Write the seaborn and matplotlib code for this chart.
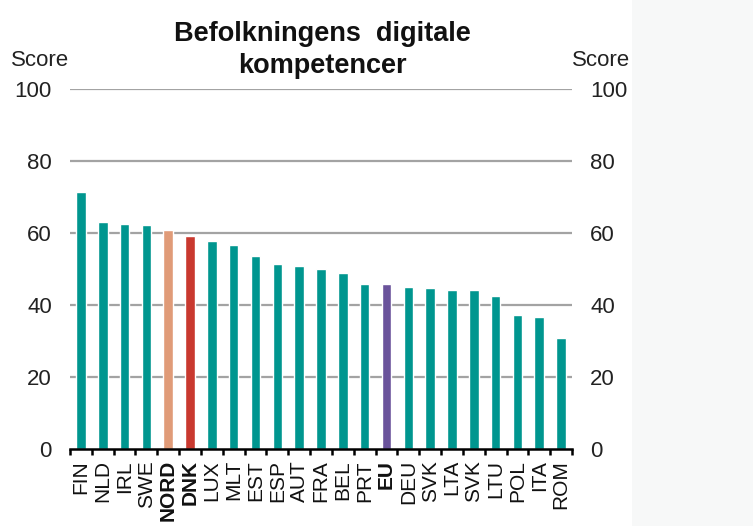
import matplotlib
matplotlib.use("Agg")
import matplotlib.pyplot as plt
import seaborn as sns
import pandas as pd
from matplotlib.patches import Rectangle
from matplotlib.ticker import FixedLocator

categories = ["FIN", "NLD", "IRL", "SWE", "NORD", "DNK", "LUX", "MLT", "EST", "ESP",
              "AUT", "FRA", "BEL", "PRT", "EU", "DEU", "SVK", "LTA", "SVK ", "LTU",
              "POL", "ITA", "ROM"]
scores = [71.4, 63.1, 62.6, 62.1, 60.7, 59.2, 57.7, 56.8, 53.7, 51.3,
          50.8, 49.9, 49.0, 45.9, 45.9, 45.0, 44.6, 44.1, 44.1, 42.6,
          37.2, 36.7, 30.9]
tick_labels = ["FIN", "NLD", "IRL", "SWE", "NORD", "DNK", "LUX", "MLT", "EST", "ESP",
               "AUT", "FRA", "BEL", "PRT", "EU", "DEU", "SVK", "LTA", "SVK", "LTU",
               "POL", "ITA", "ROM"]
bold_labels = ["NORD", "DNK", "EU"]
title_lines = ["Befolkningens  digitale", "kompetencer"]
y_ticks = [0, 20, 40, 60, 80, 100]

TEAL = "#00968f"
special = {"NORD": "#e09b78", "DNK": "#c9392f", "EU": "#6a539b"}
palette = [special.get(c, TEAL) for c in categories]

sns.set_theme(style="white")
plt.rcParams["font.family"] = ["Liberation Sans", "DejaVu Sans"]

df = pd.DataFrame({"cat": categories, "score": scores})

W, H = 753, 526
fig = plt.figure(figsize=(W / 100, H / 100), dpi=100)
fig.patch.set_facecolor("white")
fig.patches.append(Rectangle((632 / W, 0), 1, 1, transform=fig.transFigure,
                             facecolor="#f7f8f8", edgecolor="none", zorder=-5))

left, right = 70 / W, 572 / W
bottom, top = 1 - 449 / H, 1 - 89 / H
ax = fig.add_axes([left, bottom, right - left, top - bottom])
ax.set_facecolor("none")

sns.barplot(data=df, x="cat", y="score", hue="cat", palette=palette, legend=False,
            width=0.44, ax=ax, saturation=1, zorder=3)

ax.set_xlim(-0.5, len(categories) - 0.5)
ax.set_ylim(0, 100)
ax.set_xlabel("")
ax.set_ylabel("")

# grid
for v in y_ticks[1:]:
    ax.axhline(v, color="#a3a3a3", lw=1.6, zorder=1)

for s in ["top", "right", "left"]:
    ax.spines[s].set_visible(False)
ax.spines["bottom"].set_color("black")
ax.spines["bottom"].set_linewidth(1.8)
ax.spines["bottom"].set_zorder(5)

ax.set_yticks(y_ticks)
ax.set_yticklabels([str(v) for v in y_ticks])
ax.tick_params(axis="y", length=0, pad=13, labelsize=16, colors="#222222")

ax.set_xticks(range(len(categories)))
ax.set_xticklabels(tick_labels, rotation=90, fontsize=15)
ax.tick_params(axis="x", which="major", bottom=True, length=0, pad=8, colors="#111111")
ax.xaxis.set_minor_locator(FixedLocator([i - 0.5 for i in range(len(categories) + 1)]))
ax.tick_params(axis="x", which="minor", bottom=True, length=4.5, width=1.8,
               color="black", direction="out")
for lbl in ax.get_xticklabels():
    if lbl.get_text() in bold_labels:
        lbl.set_fontweight("bold")

ax2 = ax.twinx()
ax2.set_ylim(0, 100)
ax2.set_yticks(y_ticks)
ax2.set_yticklabels([str(v) for v in y_ticks])
ax2.tick_params(axis="y", length=0, pad=13, labelsize=16, colors="#222222")
for s in ax2.spines.values():
    s.set_visible(False)

fig.text(322 / W, 1 - 41 / H, title_lines[0], ha="center", va="baseline", fontsize=19.5,
         fontweight="bold", color="#111111")
fig.text(322 / W, 1 - 73 / H, title_lines[1], ha="center", va="baseline", fontsize=19.5,
         fontweight="bold", color="#111111")
fig.text(11 / W, 1 - 60 / H, "Score", ha="left", va="center", fontsize=16, color="#222222")
fig.text(572 / W, 1 - 60 / H, "Score", ha="left", va="center", fontsize=16, color="#222222")

fig.savefig("out.png", dpi=100)
